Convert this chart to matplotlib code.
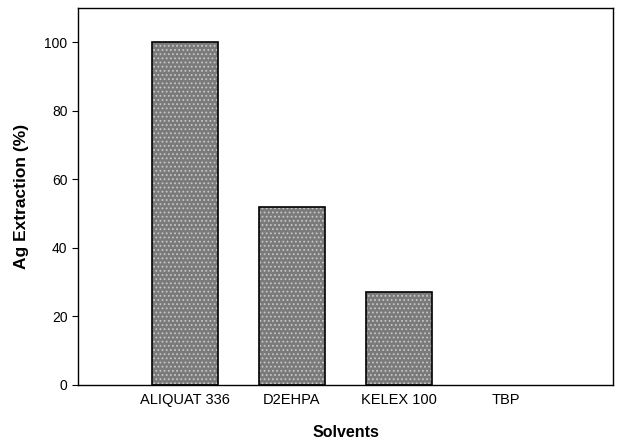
import numpy as np
import matplotlib.pyplot as plt

solvents = ['ALIQUAT 336', 'D2EHPA', 'KELEX 100', 'TBP']
extraction = [100, 52, 27, 0]
y_ticks = [0, 20, 40, 60, 80, 100]

plt.rcParams['font.family'] = ['Liberation Sans', 'DejaVu Sans']
plt.rcParams['hatch.linewidth'] = 0.8

fig = plt.figure(figsize=(6.21, 4.43), dpi=100)
ax = fig.add_axes([0.1256, 0.131, 0.8614, 0.851])

x = np.arange(1, len(solvents) + 1)
# stippled fill (hatch takes the edge colour), then a black outline on top
ax.bar(x, extraction, width=0.61, color='#7a7a7a', edgecolor='#c6c6c6',
       linewidth=0, hatch='....')
outline = ax.bar(x, extraction, width=0.61, fill=False, edgecolor='black',
                 linewidth=1.2)
outline[-1].set_linewidth(0)  # zero-height bar sits on the axis line

ax.set_xlim(0, 5)
ax.set_ylim(0, 110)
ax.set_xticks(x)
ax.set_xticklabels(solvents, fontsize=10.5)
ax.set_yticks(y_ticks)
ax.tick_params(axis='x', length=0, pad=6)
ax.tick_params(axis='y', length=4, labelsize=10, direction='out')

ax.set_xlabel('Solvents', fontsize=11.5, fontweight='bold', labelpad=13)
ax.set_ylabel('Ag Extraction (%)', fontsize=12.5, fontweight='bold', labelpad=11)

for s in ax.spines.values():
    s.set_linewidth(1.0)

fig.savefig('out.png', dpi=100)
